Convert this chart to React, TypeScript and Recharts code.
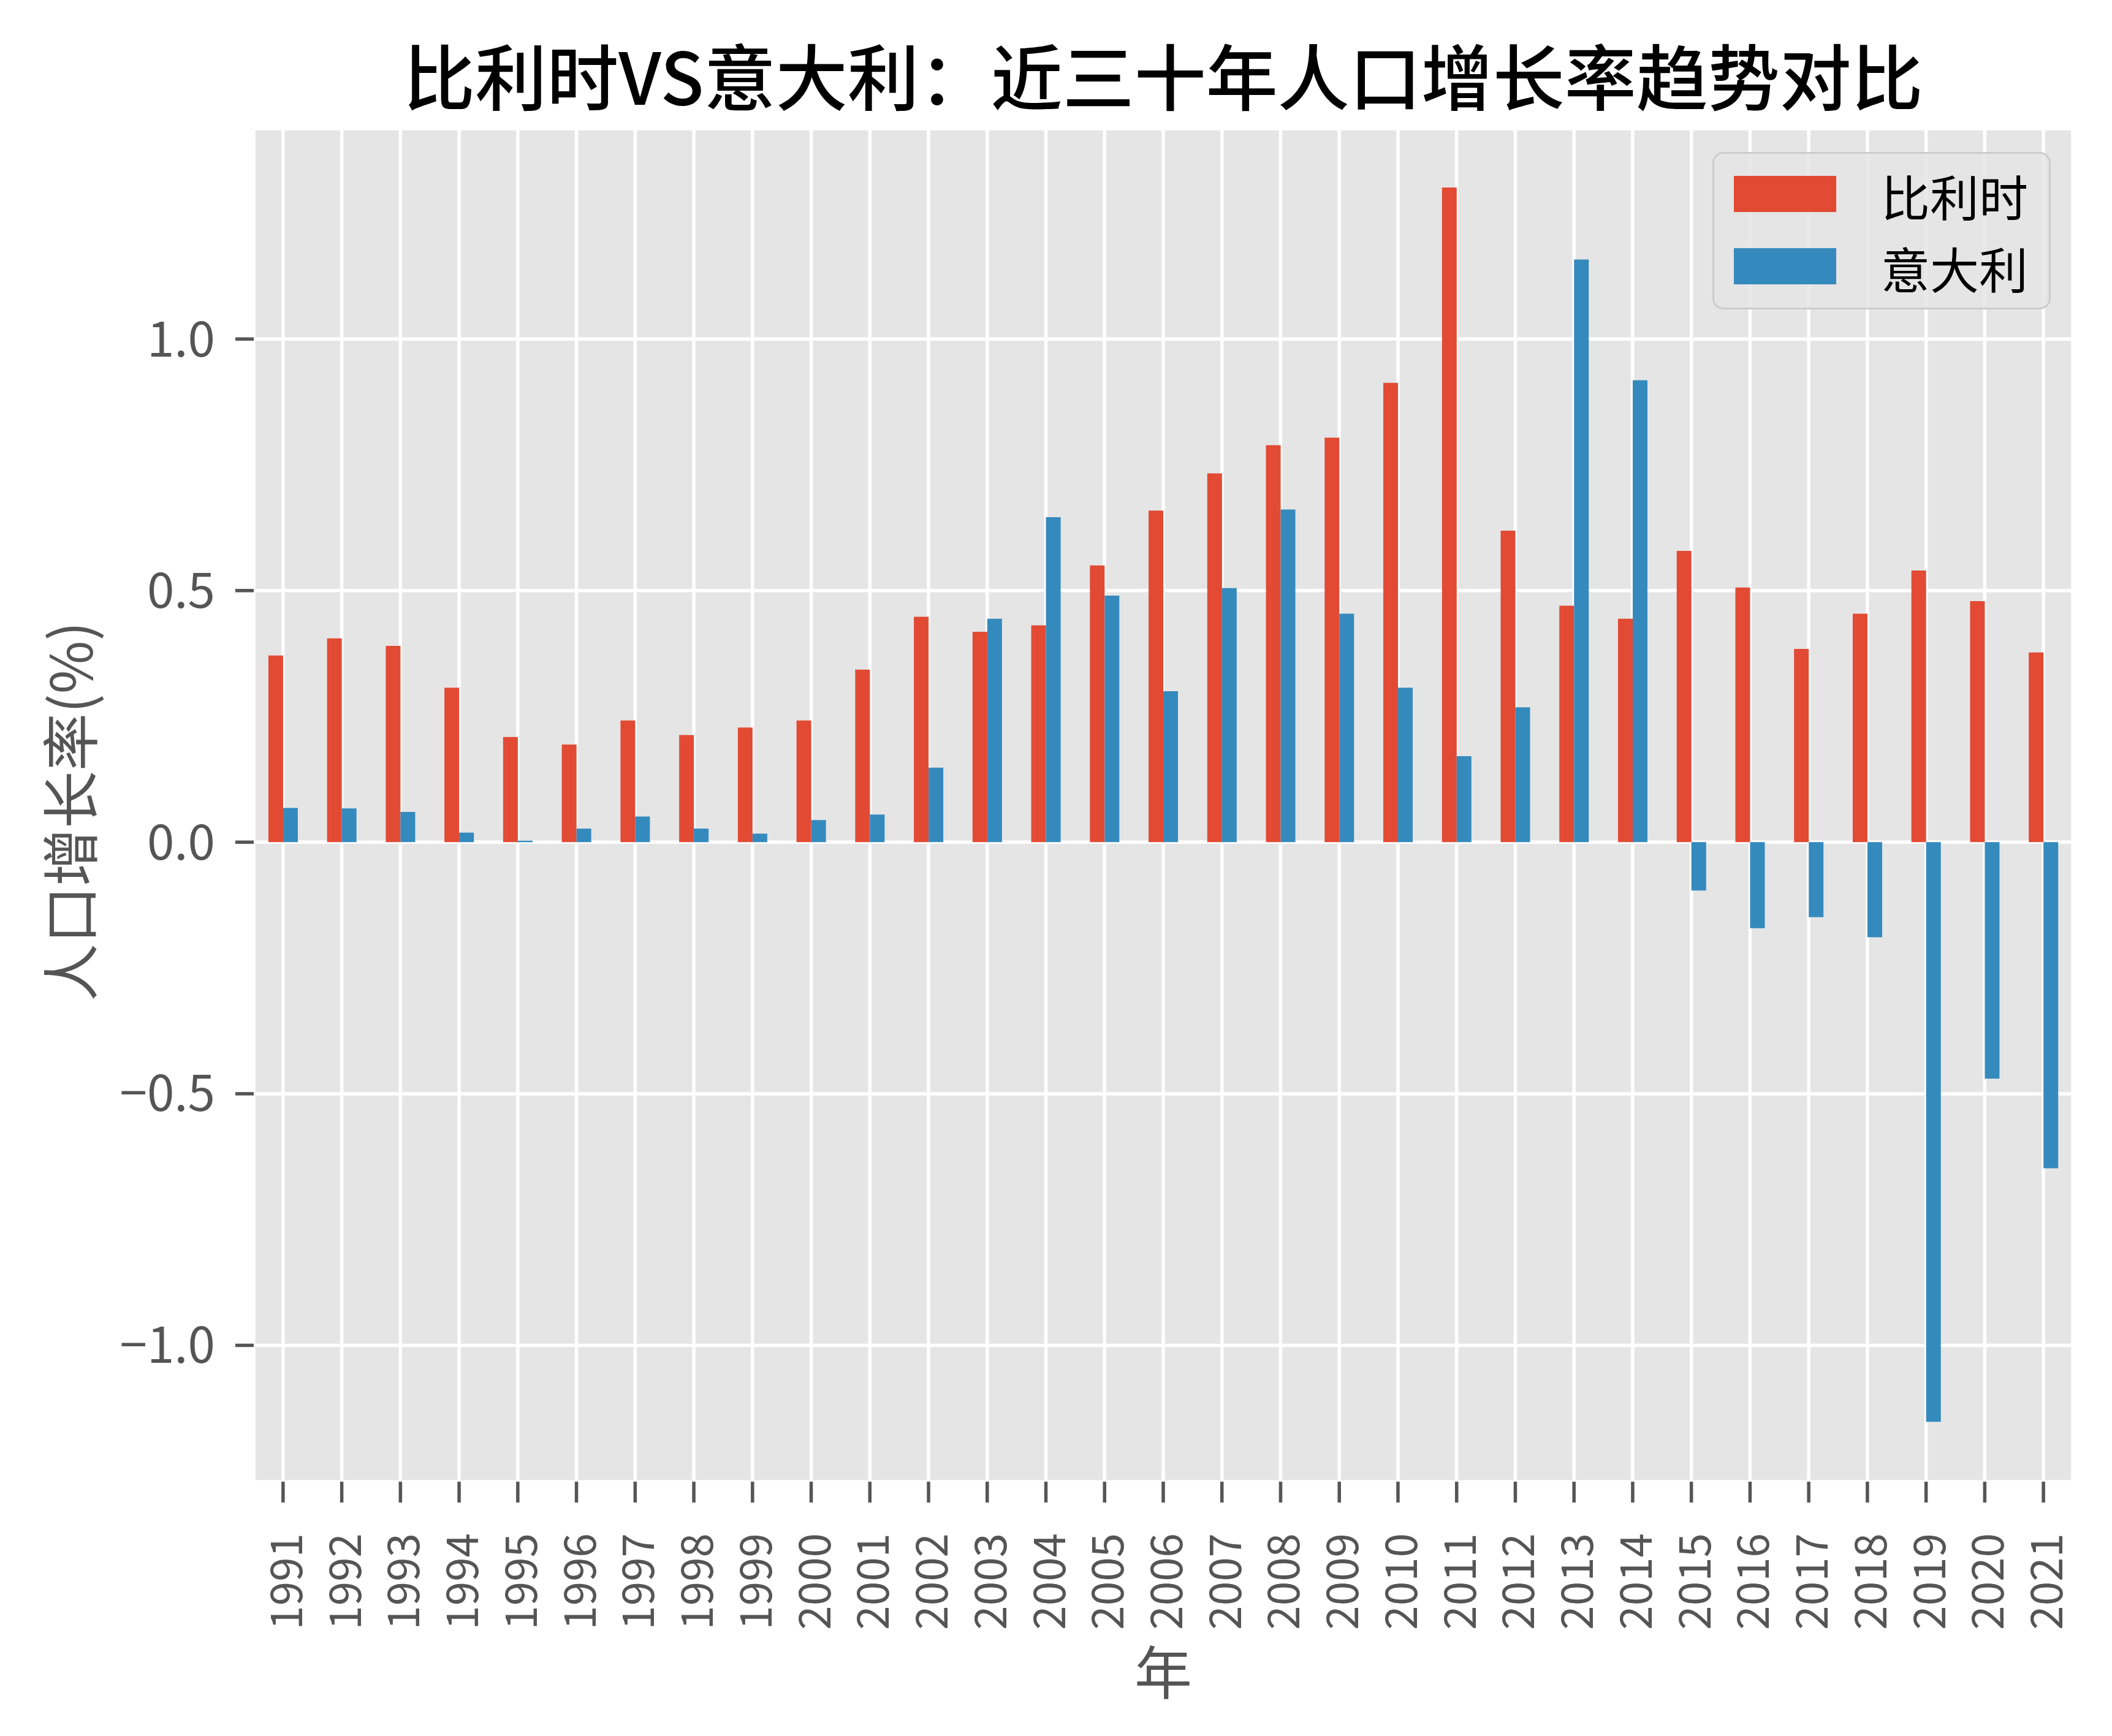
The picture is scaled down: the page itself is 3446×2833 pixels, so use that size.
import { BarChart, Bar, XAxis, YAxis, CartesianGrid, Legend } from "recharts";

const years = [
  "1991", "1992", "1993", "1994", "1995", "1996", "1997", "1998", "1999", "2000",
  "2001", "2002", "2003", "2004", "2005", "2006", "2007", "2008", "2009", "2010",
  "2011", "2012", "2013", "2014", "2015", "2016", "2017", "2018", "2019", "2020",
  "2021",
];

// 比利时 population growth (%)
const belgium = [
  0.371, 0.405, 0.39, 0.307, 0.209, 0.194, 0.242, 0.213, 0.228, 0.242,
  0.343, 0.448, 0.418, 0.431, 0.55, 0.659, 0.733, 0.789, 0.804, 0.913,
  1.301, 0.619, 0.47, 0.444, 0.579, 0.506, 0.384, 0.454, 0.54, 0.479,
  0.377,
];

// 意大利 population growth (%)
const italy = [
  0.068, 0.067, 0.06, 0.019, 0.003, 0.027, 0.051, 0.027, 0.017, 0.044,
  0.055, 0.148, 0.444, 0.646, 0.49, 0.3, 0.505, 0.661, 0.454, 0.307,
  0.171, 0.268, 1.158, 0.918, -0.096, -0.171, -0.149, -0.189, -1.152, -0.47,
  -0.648,
];

const seriesNames = ["比利时", "意大利"];
const yTicks = [-1.0, -0.5, 0.0, 0.5, 1.0];

const data = years.map((year, i) => ({
  year,
  belgium: belgium[i],
  italy: italy[i],
}));

const FONT = '"Noto Sans CJK SC", "Noto Sans", sans-serif';
const TEXT_GREY = "#555555";

function formatTick(v: number) {
  const s = Math.abs(v).toFixed(1);
  return v < 0 ? `\u2212${s}` : s;
}

function YearTick({ x, y, payload }: any) {
  return (
    <text
      x={x}
      y={y}
      transform={`rotate(-90, ${x}, ${y})`}
      textAnchor="end"
      dominantBaseline="central"
      fill={TEXT_GREY}
      fontSize={71}
      fontFamily={FONT}
    >
      {payload.value}
    </text>
  );
}

function LegendBox({ payload }: any) {
  // keep the plotting order, not alphabetical
  const items = [...(payload || [])].sort(
    (a: any, b: any) => seriesNames.indexOf(a.value) - seriesNames.indexOf(b.value)
  );
  return (
    <div
      style={{
        position: "relative",
        width: 552,
        height: 257,
        boxSizing: "border-box",
        background: "rgba(229,229,229,0.85)",
        border: "3px solid #CCCCCC",
        borderRadius: 18,
        fontFamily: FONT,
      }}
    >
      {items.map((entry: any, i: number) => (
        <div key={entry.value}>
          <div
            style={{
              position: "absolute",
              left: 32,
              top: 36 + i * 118,
              width: 167,
              height: 59,
              background: entry.color,
            }}
          />
          <div
            style={{
              position: "absolute",
              left: 272,
              top: 22 + i * 118,
              height: 90,
              lineHeight: "90px",
              fontSize: 80,
              color: "#000000",
              whiteSpace: "nowrap",
            }}
          >
            {entry.value}
          </div>
        </div>
      ))}
    </div>
  );
}

export default function App() {
  return (
    <div
      style={{
        position: "absolute",
        left: 0,
        top: 0,
        width: 3446,
        height: 2833,
        background: "#ffffff",
      }}
    >
      <div
        style={{
          position: "absolute",
          left: 414,
          top: 62,
          width: 2968,
          textAlign: "center",
          fontFamily: FONT,
          fontSize: 117,
          lineHeight: "116px",
          fontWeight: 500,
          color: "#000000",
          whiteSpace: "nowrap",
        }}
      >
        比利时VS意大利：近三十年人口增长率趋势对比
      </div>
      <BarChart
        width={3446}
        height={2833}
        data={data}
        margin={{ top: 210, right: 64, bottom: 40, left: 40 }}
        barCategoryGap="25%"
        barGap={0}
      >
        <CartesianGrid
          fill="#E5E5E5"
          stroke="#FFFFFF"
          strokeWidth={5.5}
        />
        <XAxis
          dataKey="year"
          interval={0}
          height={375}
          axisLine={false}
          tickLine={{ stroke: TEXT_GREY, strokeWidth: 5.5 }}
          tickSize={34}
          tickMargin={50}
          tick={<YearTick />}
          label={(props: any) => {
            const vb = props.viewBox;
            return (
              <text
                x={vb.x + vb.width / 2}
                y={vb.y + 306}
                textAnchor="middle"
                dominantBaseline="central"
                fill={TEXT_GREY}
                fontSize={94}
                fontFamily={FONT}
              >
                年
              </text>
            );
          }}
        />
        <YAxis
          type="number"
          width={374}
          domain={[-1.271, 1.418]}
          allowDataOverflow
          ticks={yTicks}
          tickFormatter={formatTick}
          axisLine={false}
          tickLine={{ stroke: TEXT_GREY, strokeWidth: 5.5 }}
          tickSize={30}
          tickMargin={33}
          tick={{ fill: TEXT_GREY, fontSize: 80, fontFamily: FONT }}
          label={(props: any) => {
            const vb = props.viewBox;
            const cx = vb.x + 70;
            const cy = vb.y + vb.height / 2 + 10;
            return (
              <text
                x={cx}
                y={cy}
                transform={`rotate(-90, ${cx}, ${cy})`}
                textAnchor="middle"
                dominantBaseline="central"
                fill={TEXT_GREY}
                fontSize={94}
                fontFamily={FONT}
              >
                人口增长率(%)
              </text>
            );
          }}
        />
        <Legend
          layout="horizontal"
          verticalAlign="middle"
          align="center"
          wrapperStyle={{ left: 2794, top: 248, width: 552, height: 257 }}
          content={<LegendBox />}
        />
        <Bar
          dataKey="belgium"
          name={seriesNames[0]}
          fill="#E24A33"
          isAnimationActive={false}
        />
        <Bar
          dataKey="italy"
          name={seriesNames[1]}
          fill="#348ABD"
          isAnimationActive={false}
        />
      </BarChart>
    </div>
  );
}
